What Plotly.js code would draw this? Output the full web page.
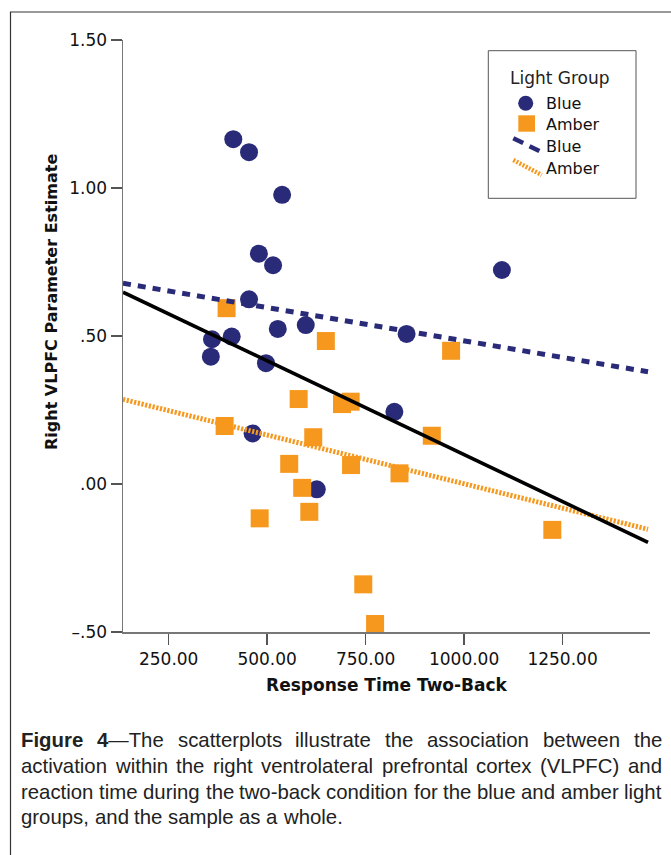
<!DOCTYPE html>
<html>
<head>
<meta charset="utf-8">
<script src="https://cdn.plot.ly/plotly-3.0.1.min.js"></script>
<style>
html,body{margin:0;padding:0;background:#fff;}
#chart{width:671px;height:855px;}
</style>
</head>
<body>
<div id="chart"></div>
<script>
// ---------------- data ----------------
const blueX = [414, 454, 538, 479, 515, 454, 527, 598, 854, 360, 410, 357, 497, 823, 463, 626, 1096];
const blueY = [1.165, 1.121, 0.977, 0.778, 0.739, 0.624, 0.524, 0.537, 0.507, 0.489, 0.498, 0.430, 0.408, 0.244, 0.171, -0.018, 0.723];

const amberX = [397, 649, 967, 580, 690, 712, 392, 617, 918, 556, 713, 836, 589, 607, 481, 744, 774, 1224];
const amberY = [0.594, 0.483, 0.450, 0.287, 0.270, 0.278, 0.196, 0.158, 0.163, 0.068, 0.064, 0.036, -0.013, -0.094, -0.116, -0.339, -0.473, -0.155];

// fit lines (end points)
const fitX = [134, 1467];
const blueFitY = [0.678, 0.379];
const amberFitY = [0.286, -0.153];
const totalFitY = [0.648, -0.197];

const xTickVals = [250, 500, 750, 1000, 1250];
const xTickText = ["250.00", "500.00", "750.00", "1000.00", "1250.00"];
const yTickVals = [1.5, 1.0, 0.5, 0.0, -0.5];
const yTickText = ["1.50", "1.00", ".50", ".00", "–.50"];

const legendTitle = "Light Group";
const legendLabels = ["Blue", "Amber", "Blue", "Amber"];

const xTitle = "Response Time Two-Back";
const yTitle = "Right VLPFC Parameter Estimate";

const captionLines = [
  "<b>Figure</b> <b>4</b>—The scatterplots illustrate the association between the",
  "activation within the right ventrolateral prefrontal cortex (VLPFC) and",
  "reaction time during the two-back condition for the blue and amber light",
  "groups, and the sample as a whole."
];
const captionJustify = [true, true, false, false];

// ---------------- styling / layout ----------------
const BLUE = '#2a2b78';
const AMBER = '#f7981e';
const W = 671, H = 855;
const M = {l: 123, r: 21, t: 40, b: 223};
const PW = W - M.l - M.r, PH = H - M.t - M.b;
const px2x = px => (px - M.l) / PW;
const px2y = py => (M.t + PH - py) / PH;

const TICKFONT = 'DejaVu Sans';

const traces = [
  {x: blueX, y: blueY, type: 'scatter', mode: 'markers', name: 'Blue',
   marker: {symbol: 'circle', size: 18, color: BLUE, line: {width: 0}}, showlegend: false},
  {x: amberX, y: amberY, type: 'scatter', mode: 'markers', name: 'Amber',
   marker: {symbol: 'square', size: 18, color: AMBER, line: {width: 0}}, showlegend: false},
  {x: fitX, y: blueFitY, type: 'scatter', mode: 'lines', name: 'Blue fit',
   line: {color: BLUE, width: 5, dash: '8px,7px'}, showlegend: false},
  {x: fitX, y: amberFitY, type: 'scatter', mode: 'lines', name: 'Amber fit',
   line: {color: AMBER, width: 5, dash: '2.2px,1.6px'}, showlegend: false},
  {x: fitX, y: totalFitY, type: 'scatter', mode: 'lines', name: 'Total fit',
   line: {color: '#000', width: 3.6}, showlegend: false}
];

// ---------------- caption layout (justified, measured) ----------------
const cv = document.createElement('canvas').getContext('2d');
function segs(word) {
  const out = [];
  const re = /<b>(.*?)<\/b>/g;
  let last = 0, m;
  while ((m = re.exec(word)) !== null) {
    if (m.index > last) out.push({t: word.slice(last, m.index), b: false});
    out.push({t: m[1], b: true});
    last = re.lastIndex;
  }
  if (last < word.length) out.push({t: word.slice(last), b: false});
  return out;
}
function measure(word, size) {
  let w = 0;
  for (const s of segs(word)) {
    cv.font = (s.b ? 'bold ' : '') + size + 'px "Liberation Sans"';
    w += cv.measureText(s.t).width;
  }
  return w;
}
const CAP_L = 21, CAP_R = 661.7;
const capSize = 20 * (CAP_R - CAP_L) / measure(captionLines[2], 20);
const capBaselines = [747.3, 773.3, 799.0, 824.3];

const annotations = [];
captionLines.forEach((line, i) => {
  const words = line.split(' ');
  const widths = words.map(w => measure(w, capSize));
  const total = widths.reduce((a, b) => a + b, 0);
  const space = measure(' ', capSize);
  const gap = captionJustify[i] ? (CAP_R - CAP_L - total) / (words.length - 1) : space;
  let cx = CAP_L;
  const cy = capBaselines[i] - 0.3465 * capSize;
  words.forEach((w, j) => {
    annotations.push({
      xref: 'paper', yref: 'paper', x: px2x(cx + widths[j] / 2), y: px2y(cy),
      xanchor: 'center', yanchor: 'middle', showarrow: false, text: w,
      font: {family: 'Liberation Sans', size: capSize, color: '#222'}
    });
    cx += widths[j] + gap;
  });
});

// y-axis title (offset from axis center as in the reference)
annotations.push({
  xref: 'paper', yref: 'paper', x: px2x(51.5), y: px2y(302.5),
  xanchor: 'center', yanchor: 'middle', showarrow: false, textangle: -90,
  text: yTitle, font: {family: TICKFONT, size: 16, color: '#111', weight: 'bold'}
});

// legend (drawn manually)
annotations.push({
  xref: 'paper', yref: 'paper', x: px2x(560.3), y: px2y(77.7),
  xanchor: 'center', yanchor: 'middle', showarrow: false, text: legendTitle,
  font: {family: TICKFONT, size: 17, color: '#222'}
});
const legTextY = [103.3, 125.0, 146.7, 168.3];
legendLabels.forEach((lab, i) => {
  annotations.push({
    xref: 'paper', yref: 'paper', x: px2x(543.5), y: px2y(legTextY[i]),
    xanchor: 'left', yanchor: 'middle', showarrow: false, text: lab,
    font: {family: TICKFONT, size: 16, color: '#111'}
  });
});

const shapes = [
  // outer figure frame
  {type: 'rect', xref: 'paper', yref: 'paper', x0: px2x(10.5), x1: px2x(700), y0: px2y(12), y1: px2y(900),
   line: {color: '#333', width: 1.2}, fillcolor: 'rgba(0,0,0,0)', layer: 'below'},
  // legend box
  {type: 'rect', xref: 'paper', yref: 'paper', x0: px2x(488.3), x1: px2x(636), y0: px2y(50.7), y1: px2y(198.3),
   line: {color: '#555', width: 1}, fillcolor: '#fff'},
  {type: 'circle', xref: 'paper', yref: 'paper', x0: px2x(518.2), x1: px2x(533.2), y0: px2y(95.8), y1: px2y(110.8),
   line: {width: 0}, fillcolor: BLUE},
  {type: 'rect', xref: 'paper', yref: 'paper', x0: px2x(518.3), x1: px2x(535), y0: px2y(115.3), y1: px2y(131.7),
   line: {width: 0}, fillcolor: AMBER},
  {type: 'line', xref: 'paper', yref: 'paper', x0: px2x(513.3), x1: px2x(539.5), y0: px2y(138.3), y1: px2y(151),
   line: {color: BLUE, width: 4.5, dash: '11px,7px'}},
  {type: 'line', xref: 'paper', yref: 'paper', x0: px2x(513.3), x1: px2x(541.7), y0: px2y(160), y1: px2y(175),
   line: {color: AMBER, width: 4.5, dash: '2px,1.5px'}}
];

const layout = {
  width: W, height: H,
  margin: M,
  paper_bgcolor: '#fff', plot_bgcolor: '#fff',
  showlegend: false,
  xaxis: {
    range: [134, 1472], showgrid: false, zeroline: false,
    showline: true, linecolor: '#777', linewidth: 1.5,
    ticks: 'outside', ticklen: 11, tickwidth: 1.5, tickcolor: '#555',
    tickvals: xTickVals, ticktext: xTickText, ticklabelstandoff: 0,
    tickfont: {family: TICKFONT, size: 17, color: '#111'},
    title: {text: xTitle, standoff: 11, font: {family: TICKFONT, size: 17, color: '#111', weight: 'bold'}}
  },
  yaxis: {
    range: [-0.5, 1.5], showgrid: false, zeroline: false,
    showline: true, linecolor: '#777', linewidth: 1.5,
    ticks: 'outside', ticklen: 11, tickwidth: 1.5, tickcolor: '#555',
    tickvals: yTickVals, ticktext: yTickText,
    tickfont: {family: TICKFONT, size: 17, color: '#111'}
  },
  annotations: annotations,
  shapes: shapes
};

Plotly.newPlot('chart', traces, layout, {staticPlot: true, displayModeBar: false});
</script>
</body>
</html>
